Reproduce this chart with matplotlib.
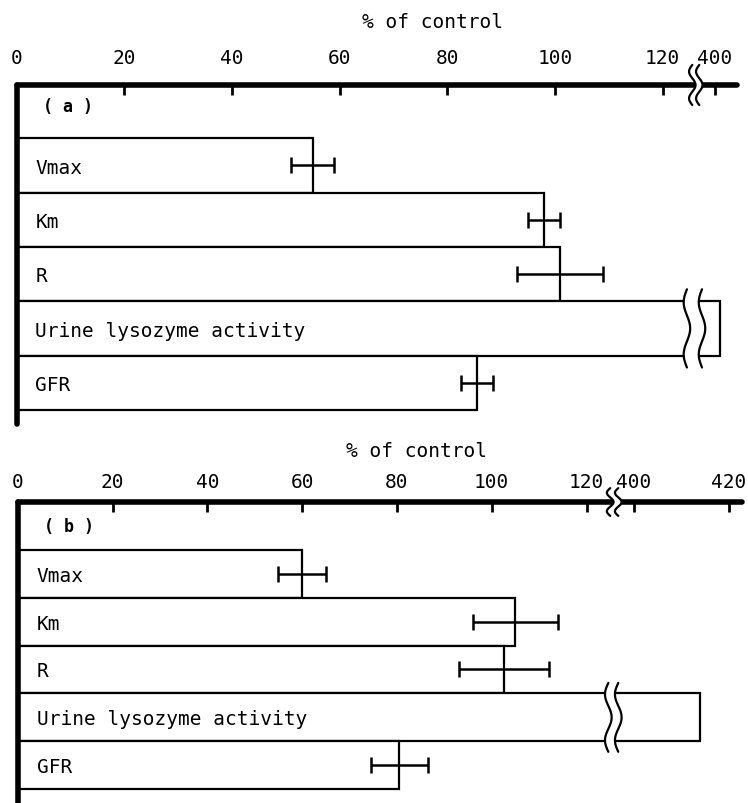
import numpy as np
import matplotlib
matplotlib.use("Agg")
import matplotlib.pyplot as plt
from matplotlib.transforms import blended_transform_factory

# ---- data -----------------------------------------------------------
categories = ['Vmax', 'Km', 'R', 'Urine lysozyme activity', 'GFR']
values_a = [55, 98, 101, 401, 85.5]
errors_a = [4, 3, 8, None, 3]
values_b = [60, 105, 102.5, 414, 80.5]
errors_b = [5, 9, 9.5, None, 6]
ticks_a = [0, 20, 40, 60, 80, 100, 120, 400]
ticks_b = [0, 20, 40, 60, 80, 100, 120, 400, 420]
panel_labels = ['( a )', '( b )']
axis_title = '% of control'

plt.rcParams['font.family'] = ['DejaVu Sans Mono', 'DejaVu Sans']

W, H = 748, 804
fig = plt.figure(figsize=(W / 100, H / 100), dpi=100)


def make_scale(brk, post_data, post_disp):
    xp = np.array([-1e4, brk, post_data, 1e4])
    fp = np.array([-1e4, brk, post_disp, post_disp + (1e4 - post_data)])

    def fwd(x):
        return np.interp(x, xp, fp)

    def inv(y):
        return np.interp(y, fp, xp)
    return fwd, inv


def squiggle_pair(ax, x1, x2, ya, yb, amp, lw=1.6, clip=True):
    t = np.linspace(0, 1, 120)
    y = ya + (yb - ya) * t
    w = amp * np.sin(2 * np.pi * 1.5 * t + np.pi)
    xa = x1 + w
    xb = x2 + w
    ax.fill_betweenx(y, xa, xb, color='white', zorder=6, clip_on=clip,
                     linewidth=0)
    ax.plot(xa, y, color='black', lw=lw, zorder=7, clip_on=clip,
            solid_capstyle='round')
    ax.plot(xb, y, color='black', lw=lw, zorder=7, clip_on=clip,
            solid_capstyle='round')


def panel(rect, values, errors, ticks, scale, xmax, ylim, label, label_y,
          pad, axis_brk, bar_brk, axis_sq_h, amp):
    ax = fig.add_axes(rect)
    fwd, inv = scale
    ax.set_xscale('function', functions=(fwd, inv))
    ypos = np.arange(1, len(categories) + 1)
    ax.barh(ypos, values, height=1.0, left=0, color='white',
            edgecolor='black', linewidth=1.6, zorder=2)
    ev = [(y, v, e) for y, v, e in zip(ypos, values, errors) if e is not None]
    ax.errorbar([v for _, v, _ in ev], [y for y, _, _ in ev],
                xerr=[e for _, _, e in ev], fmt='none', ecolor='black',
                elinewidth=1.8, capsize=5.5, capthick=1.8, zorder=3)
    ax.set_xlim(0, xmax)
    ax.set_ylim(*ylim)
    ax.set_xticks(ticks)
    ax.set_xticklabels([str(t) for t in ticks])
    ax.xaxis.set_ticks_position('top')
    ax.tick_params(axis='x', direction='in', length=7, width=2,
                   pad=pad, labelsize=14)
    ax.set_yticks([])
    for s in ['right', 'bottom']:
        ax.spines[s].set_visible(False)
    for s in ['top', 'left']:
        ax.spines[s].set_linewidth(4)
        ax.spines[s].set_capstyle('round')
    tr = blended_transform_factory(ax.transAxes, ax.transData)
    for y, c in zip(ypos, categories):
        ax.text(0.026, y + 0.03, c, transform=tr, va='center', ha='left',
                fontsize=14)
    ax.text(0.037, label_y, label, transform=tr, va='center', ha='left',
            fontsize=12, fontweight='bold')
    # axis break
    top = ylim[1]
    squiggle_pair(ax, axis_brk[0], axis_brk[1], top - axis_sq_h,
                  top + axis_sq_h, amp, lw=1.6, clip=False)
    # bar break (urine lysozyme row)
    yu = ypos[3]
    squiggle_pair(ax, bar_brk[0], bar_brk[1], yu - 0.5 - 0.22, yu + 0.5 + 0.22,
                  amp, lw=1.6, clip=False)
    return ax


# panel (a)
panel([16.6 / W, 1 - 425 / H, (737 - 16.6) / W, 339 / H],
      values_a, errors_a, ticks_a, make_scale(128.2, 398.6, 128.3),
      404.1, (5.76, -0.48), panel_labels[0], -0.09, 13,
      (125.5, 126.8), (124.5, 127.3), 0.37, 0.6)

# panel (b)
panel([17.7 / W, 0.0, (742 - 17.7) / W, 301 / H],
      values_b, errors_b, ticks_b, make_scale(128.2, 398.4, 128.4),
      422.8, (5.79, -0.5), panel_labels[1], 0.0, 8,
      (125.0, 126.7), (124.6, 126.7), 0.29, 0.7)

fig.text(432 / W, 1 - 23 / H, axis_title, ha='center', va='center',
         fontsize=14)
fig.text(417 / W, 1 - 452 / H, axis_title, ha='center', va='center',
         fontsize=14)

fig.savefig('out.png', dpi=100)
